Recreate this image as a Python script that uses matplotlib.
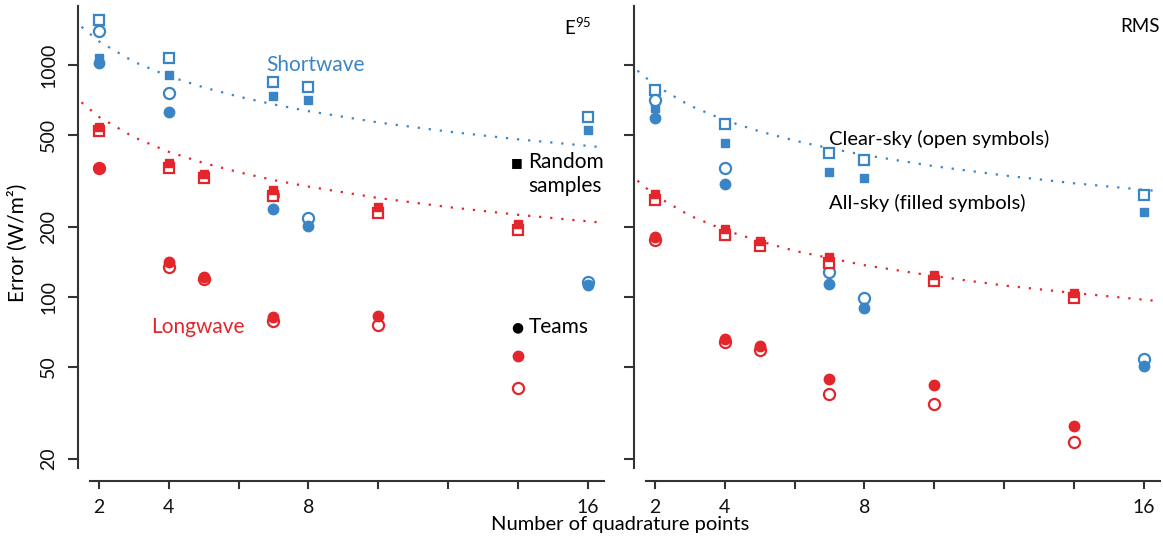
import matplotlib
matplotlib.use("Agg")
import matplotlib.pyplot as plt

plt.rcParams['font.family'] = ['Lato', 'DejaVu Sans']
plt.rcParams['mathtext.default'] = 'regular'

BLUE = '#3a85c6'
RED = '#e2262b'

# quadrature points
x_sw = [2, 4, 7, 8, 16]
x_lw = [2, 4, 5, 7, 10, 14]

# E95 panel
sw_e95_rand_clear = [1563, 1069, 847, 806, 599]
sw_e95_rand_all = [1072, 906, 733, 708, 525]
sw_e95_team_clear = [1402, 755, 274, 218, 116]
sw_e95_team_all = [1020, 627, 240, 202, 112]
lw_e95_rand_clear = [519, 359, 324, 272, 230, 195]
lw_e95_rand_all = [542, 377, 338, 289, 244, 206]
lw_e95_team_clear = [360, 135, 119, 78.6, 76, 40.4]
lw_e95_team_all = [361, 141, 122, 82, 83, 55.7]

# RMS panel
sw_rms_rand_clear = [780, 555, 419, 390, 275]
sw_rms_rand_all = [650, 462, 347, 325, 232]
sw_rms_team_clear = [706, 360, 128.6, 99.3, 54]
sw_rms_team_all = [589, 306, 114, 89.3, 50.5]
lw_rms_rand_clear = [262, 185, 166, 140, 117, 98.6]
lw_rms_rand_all = [278, 196, 175, 148, 124.5, 104]
lw_rms_team_clear = [176, 64, 58.9, 38.2, 34.4, 23.6]
lw_rms_team_all = [181, 65.8, 61.5, 44.3, 41.8, 27.9]

# dotted reference curves
x_fit = [1.5, 2, 3, 4, 5, 6, 7, 8, 10, 12, 14, 16.4]
sw_e95_fit = [1460, 1264, 1032, 894, 800, 730, 676, 632, 565, 516, 478, 442]
lw_e95_fit = [690, 597, 488, 422, 378, 345, 319, 299, 267, 244, 226, 209]
sw_rms_fit = [945, 818, 668, 578, 517, 472, 437, 409, 366, 334, 309, 286]
lw_rms_fit = [317, 274, 224, 194, 174, 158, 147, 137, 123, 112, 104, 96]

xticks = [2, 4, 6, 8, 10, 12, 14, 16]
xticklabels = ['2', '4', '', '8', '', '', '', '16']
yticks = [20, 50, 100, 200, 500, 1000]

fig = plt.figure(figsize=(11.63, 5.36), dpi=100)
ax1 = fig.add_axes([78 / 1163, 1 - 468 / 536, 526 / 1163, 462 / 536])
ax2 = fig.add_axes([634 / 1163, 1 - 468 / 536, 526 / 1163, 462 / 536])


def draw_panel(ax, sw, lw, sw_fit, lw_fit):
    for xs, vals, col in ((x_sw, sw, BLUE), (x_lw, lw, RED)):
        rc, ra, tc, ta = vals
        ax.plot(xs, rc, 's', mfc='white', mec=col, mew=1.6, ms=6.5, ls='none', zorder=3)
        ax.plot(xs, ra, 's', color=col, ms=5.5, ls='none', zorder=3)
        ax.plot(xs, tc, 'o', mfc='white', mec=col, mew=1.6, ms=8, ls='none', zorder=3)
        ax.plot(xs, ta, 'o', color=col, ms=7.5, ls='none', zorder=4)
    ax.plot(x_fit, sw_fit, color=BLUE, ls=(0, (1, 4)), lw=1.6, zorder=2)
    ax.plot(x_fit, lw_fit, color=RED, ls=(0, (1, 4)), lw=1.6, zorder=2)

    ax.set_yscale('log')
    ax.set_ylim(18.3, 1795)
    ax.set_xlim(1.4, 16.47)
    ax.set_yticks(yticks)
    ax.minorticks_off()
    ax.set_xticks(xticks)
    ax.set_xticklabels(xticklabels)
    for s in ('top', 'right'):
        ax.spines[s].set_visible(False)
    ax.spines['bottom'].set_position(('outward', 9))
    ax.spines['bottom'].set_bounds(1.73, 16.47)
    for s in ('left', 'bottom'):
        ax.spines[s].set_color('#333333')
        ax.spines[s].set_linewidth(1.5)
    ax.tick_params(axis='both', width=1.5, color='#333333',
                   labelsize=14, labelcolor='#111111')
    ax.tick_params(axis='y', length=7, pad=8)
    ax.tick_params(axis='x', length=6, pad=7.5)


draw_panel(ax1,
           (sw_e95_rand_clear, sw_e95_rand_all, sw_e95_team_clear, sw_e95_team_all),
           (lw_e95_rand_clear, lw_e95_rand_all, lw_e95_team_clear, lw_e95_team_all),
           sw_e95_fit, lw_e95_fit)
draw_panel(ax2,
           (sw_rms_rand_clear, sw_rms_rand_all, sw_rms_team_clear, sw_rms_team_all),
           (lw_rms_rand_clear, lw_rms_rand_all, lw_rms_team_clear, lw_rms_team_all),
           sw_rms_fit, lw_rms_fit)

ax1.set_yticklabels([str(v) for v in yticks], rotation=90, va='center')
ax2.set_yticklabels([])

fig.text(18 / 1163, 1 - 243 / 536, 'Error (W/m²)', rotation=90,
         ha='center', va='center', fontsize=15)
fig.text(620 / 1163, 1 - 530 / 536, 'Number of quadrature points',
         ha='center', va='baseline', fontsize=14.5)

# annotations
ax1.text(0.975, 0.955, 'E$^{95}$', transform=ax1.transAxes, ha='right', va='center', fontsize=13.5)
ax1.text(6.8, 1000, 'Shortwave', color=BLUE, fontsize=15, ha='left', va='center')
ax1.text(3.5, 74, 'Longwave', color=RED, fontsize=15, ha='left', va='center')
ax1.text(13.8, 382, '■', fontsize=9, ha='left', va='center')
ax1.text(14.3, 382, 'Random', fontsize=15, ha='left', va='center')
ax1.text(14.3, 301, 'samples', fontsize=15, ha='left', va='center')
ax1.text(13.8, 74, '●', fontsize=10, ha='left', va='center', family='DejaVu Sans')
ax1.text(14.3, 74, 'Teams', fontsize=15, ha='left', va='center')

ax2.text(1.0, 0.955, 'RMS', transform=ax2.transAxes, ha='right', va='center', fontsize=13.5)
ax2.text(7.0, 480, 'Clear-sky (open symbols)', fontsize=14.5, ha='left', va='center')
ax2.text(7.0, 254, 'All-sky (filled symbols)', fontsize=14.5, ha='left', va='center')

fig.savefig('out.png', dpi=100)
